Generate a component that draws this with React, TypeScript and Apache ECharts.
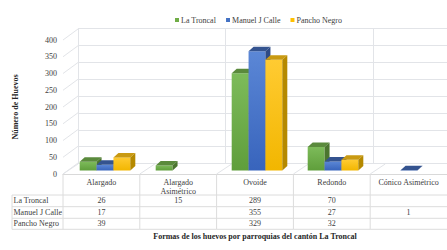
import React, { useEffect, useRef } from "react";
import * as echarts from "echarts";

const categories = ["Alargado", "Alargado Asimétrico", "Ovoide", "Redondo", "Cónico Asimétrico"];
const seriesNames = ["La Troncal", "Manuel J Calle", "Pancho Negro"];
const laTroncal: (number | null)[] = [26, 15, 289, 70, null];
const manuelJCalle: (number | null)[] = [17, null, 355, 27, 1];
const panchoNegro: (number | null)[] = [39, null, 329, 32, null];
const yTicks = [0, 50, 100, 150, 200, 250, 300, 350, 400];
const yAxisTitle = "Número de Huevos";
const xAxisTitle = "Formas de los huevos por parroquias del cantón La Troncal";

const allValues = [laTroncal, manuelJCalle, panchoNegro];

const FONT = "Liberation Serif";
const TEXT = "#404040";
const GRIDC = "#e2e4e8";

const palette = [
  { base: "#70AD47", top: "#7dbb5a", bottom: "#5f9e3b", cap: "#5a8a3c", side: "#4b752f" },
  { base: "#4472C4", top: "#5b87d6", bottom: "#3864bc", cap: "#34538f", side: "#2e4a85" },
  { base: "#FFC000", top: "#ffcb32", bottom: "#f2b600", cap: "#c99a12", side: "#b58900" },
];

const DX = 5;
const DY = 4.5;
const BACK_DX = 15;
const BACK_DY = -11;

function makeBarSeries(name: string, values: (number | null)[], s: number) {
  const p = palette[s];
  return {
    type: "custom",
    name,
    xAxisIndex: 2,
    yAxisIndex: 2,
    clip: false,
    z: 3,
    itemStyle: { color: p.base },
    data: values.map((v, i) => [i, v]).filter((d) => d[1] != null),
    renderItem: (params: any, api: any) => {
      const i = api.value(0);
      const v = api.value(1);
      const top = api.coord([i, v]);
      const base = api.coord([i, 0]);
      const band = api.size([1, 0])[0];
      const w = band * 0.222;
      const l = top[0] + (s - 1.5) * w;
      const r = l + w;
      const ty = top[1];
      const by = base[1];
      return {
        type: "group",
        children: [
          {
            type: "rect",
            shape: { x: l, y: ty, width: w, height: Math.max(by - ty, 0) },
            style: {
              fill: new echarts.graphic.LinearGradient(0, 0, 0, 1, [
                { offset: 0, color: p.top },
                { offset: 1, color: p.bottom },
              ]),
            },
          },
          {
            type: "polygon",
            shape: { points: [[l, ty], [l + DX, ty - DY], [r + DX, ty - DY], [r, ty]] },
            style: { fill: p.cap },
          },
          {
            type: "polygon",
            shape: { points: [[r, ty], [r + DX, ty - DY], [r + DX, by - DY], [r, by]] },
            style: { fill: p.side },
          },
        ],
      };
    },
  };
}

export default function App() {
  const ref = useRef<HTMLDivElement>(null);
  useEffect(() => {
    if (!ref.current) return;
    const chart = echarts.init(ref.current, undefined, { renderer: "svg" });

    const lineStyle = { stroke: GRIDC, lineWidth: 1 };
    const tableLine = { stroke: "#dcdcdc", lineWidth: 1 };

    const option: any = {
      animation: false,
      textStyle: { fontFamily: FONT },
      legend: {
        data: seriesNames,
        left: 170,
        top: 11,
        itemWidth: 4,
        itemHeight: 4,
        itemGap: 10,
        icon: "rect",
        textStyle: { fontFamily: FONT, fontSize: 8, color: TEXT, padding: [0, 0, 0, -3] },
      },
      grid: [
        { left: 63, top: 40, width: 384, height: 134 },
        { left: 78, top: 28.5, width: 384, height: 135 },
        { left: 67, top: 36, width: 384, height: 134.5 },
      ],
      xAxis: [
        {
          type: "category",
          gridIndex: 0,
          data: categories,
          axisLine: { show: true, lineStyle: { color: "#d9d9d9" } },
          axisTick: { show: false },
          splitLine: { show: false },
          axisLabel: {
            margin: 4,
            fontFamily: FONT,
            fontSize: 8,
            lineHeight: 9,
            color: TEXT,
            interval: 0,
            formatter: (v: string) => (v === "Alargado Asimétrico" ? "Alargado\nAsimétrico" : v),
          },
          name: xAxisTitle,
          nameLocation: "middle",
          nameGap: 58,
          nameTextStyle: { fontFamily: FONT, fontSize: 8, fontWeight: "bold", color: "#262626" },
        },
        {
          type: "category",
          gridIndex: 1,
          data: categories,
          axisLine: { show: false },
          axisTick: { show: false },
          axisLabel: { show: false },
          splitLine: { show: true, lineStyle: { color: GRIDC, width: 1 } },
        },
        { type: "category", gridIndex: 2, data: categories, show: false },
      ],
      yAxis: [
        {
          type: "value",
          gridIndex: 0,
          min: 0,
          max: 400,
          interval: 50,
          axisLine: { show: false },
          axisTick: { show: false },
          splitLine: { show: false },
          axisLabel: { margin: 6, fontFamily: FONT, fontSize: 8, color: TEXT },
          name: yAxisTitle,
          nameLocation: "middle",
          nameGap: 44,
          nameRotate: 90,
          nameTextStyle: { fontFamily: FONT, fontSize: 8, fontWeight: "bold", color: "#262626" },
        },
        {
          type: "value",
          gridIndex: 1,
          min: 0,
          max: 400,
          interval: 50,
          axisLine: { show: false },
          axisTick: { show: false },
          axisLabel: { show: false },
          splitLine: { show: true, lineStyle: { color: GRIDC, width: 1 } },
        },
        { type: "value", gridIndex: 2, min: 0, max: 400, interval: 50, show: false },
      ],
      series: [
        {
          type: "custom",
          name: "sideWall",
          xAxisIndex: 0,
          yAxisIndex: 0,
          clip: false,
          z: 1,
          silent: true,
          data: yTicks.map((v) => [0, v]),
          renderItem: (params: any, api: any) => {
            const p = api.coord([0, api.value(1)]);
            const band = api.size([1, 0])[0];
            const x = p[0] - band / 2;
            return {
              type: "line",
              shape: { x1: x, y1: p[1], x2: x + BACK_DX, y2: p[1] + BACK_DY },
              style: lineStyle,
            };
          },
        },
        {
          type: "custom",
          name: "floor",
          xAxisIndex: 0,
          yAxisIndex: 0,
          clip: false,
          z: 1,
          silent: true,
          data: categories.map((c, i) => [i, 0]),
          renderItem: (params: any, api: any) => {
            const i = api.value(0);
            const p = api.coord([i, 0]);
            const band = api.size([1, 0])[0];
            const x = p[0] - band / 2;
            return {
              type: "line",
              shape: { x1: x, y1: p[1], x2: x + BACK_DX, y2: p[1] + BACK_DY + 1 },
              style: lineStyle,
            };
          },
        },
        ...seriesNames.map((n, s) => makeBarSeries(n, allValues[s], s)),
        {
          type: "custom",
          name: "table",
          xAxisIndex: 0,
          yAxisIndex: 0,
          clip: false,
          z: 4,
          silent: true,
          data: categories.map((c, i) => [i, 0]),
          renderItem: (params: any, api: any) => {
            const i = api.value(0);
            const p = api.coord([i, 0]);
            const band = api.size([1, 0])[0];
            const xl = p[0] - band / 2;
            const xr = p[0] + band / 2;
            const by = p[1];
            const rowLines = [21, 32.7, 44.3, 55.3];
            const rowText = [26.8, 38.3, 49.8];
            const children: any[] = [];
            children.push({ type: "line", shape: { x1: xl, y1: by, x2: xl, y2: by + 55.3 }, style: tableLine });
            rowLines.forEach((dy) =>
              children.push({ type: "line", shape: { x1: xl, y1: by + dy, x2: xr, y2: by + dy }, style: tableLine })
            );
            allValues.forEach((vals, r) => {
              const v = vals[i];
              if (v != null) {
                children.push({
                  type: "text",
                  style: {
                    x: p[0],
                    y: by + rowText[r],
                    text: String(v),
                    fill: TEXT,
                    fontFamily: FONT,
                    fontSize: 8,
                    align: "center",
                    verticalAlign: "middle",
                  },
                });
              }
            });
            if (i === 0) {
              const x0 = xl - 51;
              rowLines.forEach((dy) =>
                children.push({ type: "line", shape: { x1: x0, y1: by + dy, x2: xl, y2: by + dy }, style: tableLine })
              );
              children.push({ type: "line", shape: { x1: x0, y1: by + 21, x2: x0, y2: by + 55.3 }, style: tableLine });
              seriesNames.forEach((n, r) =>
                children.push({
                  type: "text",
                  style: {
                    x: x0 + 1.5,
                    y: by + rowText[r],
                    text: n,
                    fill: TEXT,
                    fontFamily: FONT,
                    fontSize: 8,
                    align: "left",
                    verticalAlign: "middle",
                  },
                })
              );
            }
            return { type: "group", children };
          },
        },
      ],
    };
    chart.setOption(option);
    return () => chart.dispose();
  }, []);
  return (
    <div
      ref={ref}
      style={{ position: "fixed", left: 0, top: 0, width: 447, height: 250, background: "#fff" }}
    />
  );
}
